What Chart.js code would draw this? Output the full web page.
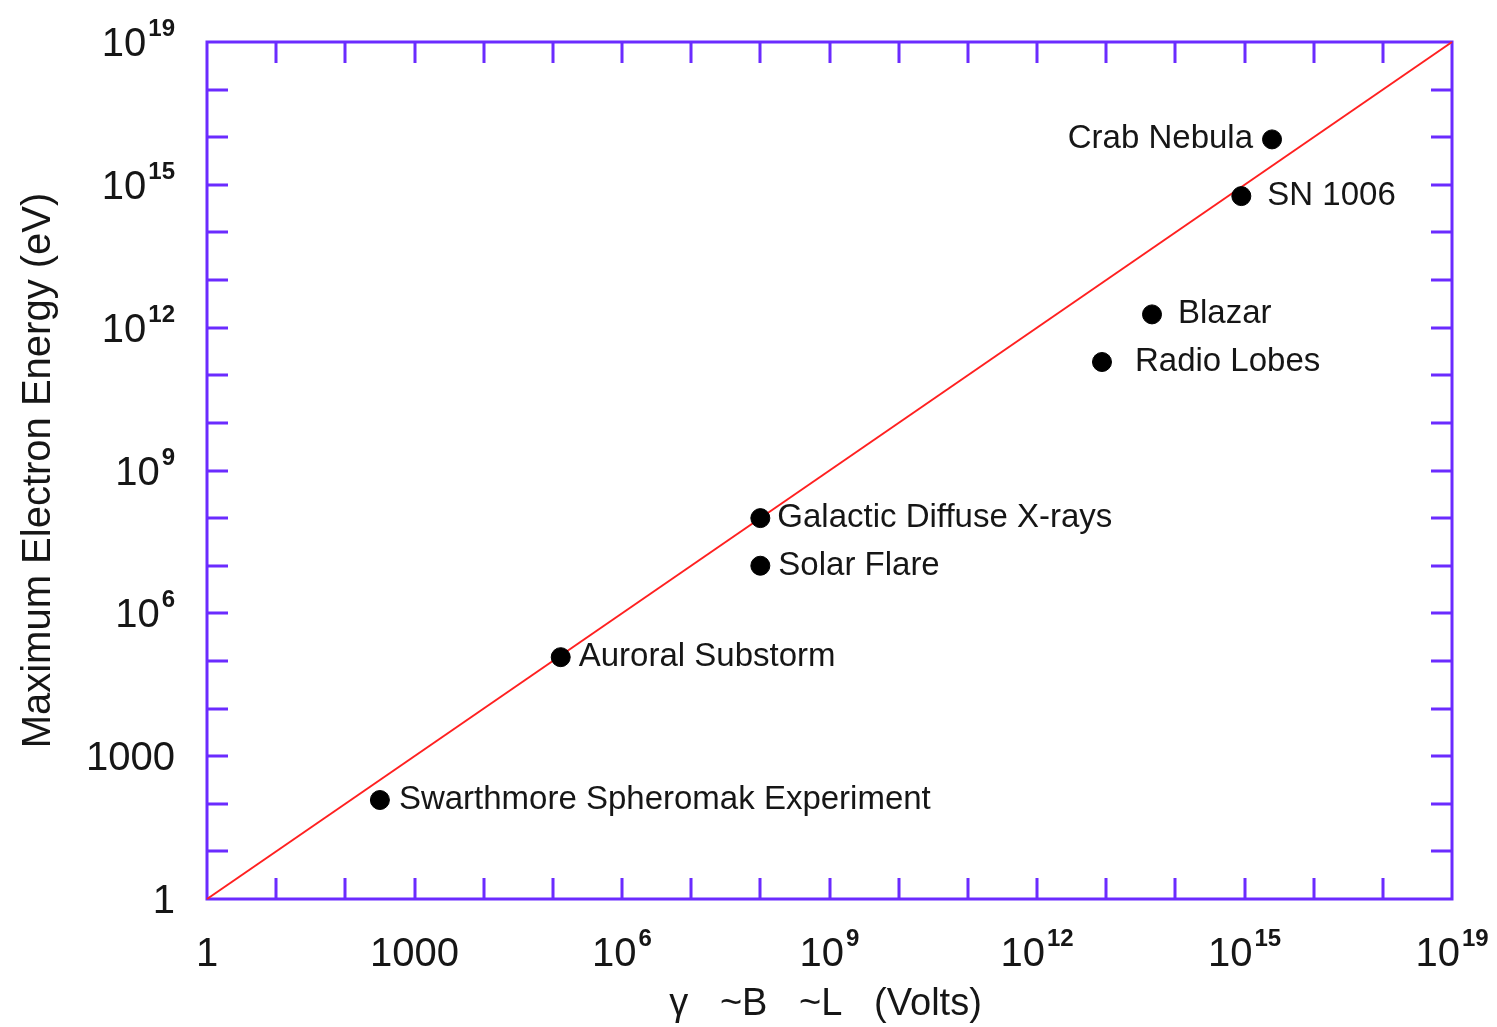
<!DOCTYPE html>
<html>
<head>
<meta charset="utf-8">
<script src="https://cdn.jsdelivr.net/npm/chart.js@4.4.1/dist/chart.umd.min.js"></script>
<style>
  html, body { margin: 0; padding: 0; background: #ffffff; }
  #wrap { width: 1497px; height: 1027px; position: relative; }
</style>
</head>
<body>
<div id="wrap"><canvas id="chart"></canvas></div>
<script>
// Astrophysical and laboratory accelerators: potential drop vs. maximum electron energy
const sourceNames = [
  'Swarthmore Spheromak Experiment',
  'Auroral Substorm',
  'Galactic Diffuse X-rays',
  'Solar Flare',
  'Radio Lobes',
  'Blazar',
  'SN 1006',
  'Crab Nebula'
];
const voltage   = [316, 1.3e5, 1e8, 1e8, 8.7e12, 4.6e13, 9e14, 2.5e15];   // volts
const maxEnergy = [120, 1.2e5, 1e8, 1e7, 1.9e11, 1.9e12, 5.8e14, 9e15];   // eV

// reference line E = V across the whole range
const lineVoltage = [1, 1e18];
const lineEnergy  = [1, 1e18];

// labelled decades and their printed text [mantissa, exponent]
const tickValues = [1, 1e3, 1e6, 1e9, 1e12, 1e15, 1e18];
const tickLabels = [['1', ''], ['1000', ''], ['10', '6'], ['10', '9'], ['10', '12'], ['10', '15'], ['10', '19']];

const xTitle = 'γ   ~B   ~L   (Volts)';
const yTitle = 'Maximum Electron Energy (eV)';

// which side of the dot each name sits on, and the gap from the dot centre
const labelSide = ['right', 'right', 'right', 'right', 'right', 'right', 'right', 'left'];
const labelGap  = [19, 18, 17, 18, 33, 26, 26, 19];

const FRAME = '#6b2bff';
const FONT = '"Liberation Sans", Arial, Helvetica, sans-serif';
const INK = '#161616';

function drawPower(ctx, base, exp, x, baseline, align) {
  ctx.font = '40px ' + FONT;
  const wb = ctx.measureText(base).width;
  ctx.font = 'bold 24px ' + FONT;
  const we = exp ? ctx.measureText(exp).width : 0;
  const gap = exp ? 2 : 0;
  const total = wb + gap + we;
  const start = align === 'center' ? x - total / 2 : x - total;
  ctx.textAlign = 'left';
  ctx.textBaseline = 'alphabetic';
  ctx.font = '40px ' + FONT;
  ctx.fillText(base, start, baseline);
  if (exp) {
    ctx.font = 'bold 24px ' + FONT;
    ctx.fillText(exp, start + wb + gap, baseline - 20);
  }
}

const framePlugin = {
  id: 'frameAndTicks',
  beforeDatasetsDraw(chart) {
    const { ctx, chartArea: a, scales: { x, y } } = chart;
    ctx.save();
    ctx.strokeStyle = FRAME;
    ctx.lineWidth = 3;
    ctx.lineCap = 'butt';
    const len = 21;
    const decades = Math.round(Math.log10(x.max / x.min));
    ctx.beginPath();
    for (let e = 1; e < decades; e++) {
      const px = Math.round(x.getPixelForValue(x.min * Math.pow(10, e)));
      ctx.moveTo(px, a.bottom); ctx.lineTo(px, a.bottom - len);
      ctx.moveTo(px, a.top);    ctx.lineTo(px, a.top + len);
    }
    const ydec = Math.round(Math.log10(y.max / y.min));
    for (let e = 1; e < ydec; e++) {
      const py = Math.round(y.getPixelForValue(y.min * Math.pow(10, e)));
      ctx.moveTo(a.left, py);  ctx.lineTo(a.left + len, py);
      ctx.moveTo(a.right, py); ctx.lineTo(a.right - len, py);
    }
    ctx.stroke();
    ctx.strokeRect(a.left, a.top, a.right - a.left, a.bottom - a.top);
    ctx.restore();
  },
  afterDatasetsDraw(chart) {
    const { ctx, chartArea: a, scales: { x, y } } = chart;
    ctx.save();
    ctx.fillStyle = INK;

    // tick labels
    tickValues.forEach((v, i) => {
      const [b, e] = tickLabels[i];
      drawPower(ctx, b, e, x.getPixelForValue(v), a.bottom + 67, 'center');
      drawPower(ctx, b, e, 175, y.getPixelForValue(v) + 14, 'right');
    });

    // axis titles
    ctx.font = '38px ' + FONT;
    ctx.textAlign = 'center';
    ctx.textBaseline = 'alphabetic';
    ctx.fillText(xTitle, (a.left + a.right) / 2 - 4, 1015);
    ctx.save();
    ctx.translate(50, (a.top + a.bottom) / 2);
    ctx.rotate(-Math.PI / 2);
    ctx.font = '40px ' + FONT;
    ctx.fillText(yTitle, 0, 0);
    ctx.restore();

    // source names beside their dots
    const meta = chart.getDatasetMeta(0);
    ctx.font = '33px ' + FONT;
    meta.data.forEach((pt, i) => {
      const right = labelSide[i] === 'right';
      ctx.textAlign = right ? 'left' : 'right';
      ctx.fillText(sourceNames[i], pt.x + (right ? labelGap[i] : -labelGap[i]), pt.y + 9);
    });
    ctx.restore();
  }
};

new Chart(document.getElementById('chart'), {
  type: 'scatter',
  data: {
    datasets: [
      {
        label: 'Sources',
        data: voltage.map((v, i) => ({ x: v, y: maxEnergy[i] })),
        backgroundColor: '#000000',
        borderColor: '#000000',
        pointRadius: 9.5,
        pointHoverRadius: 9.5,
        clip: false,
        order: 0
      },
      {
        label: 'E = V',
        data: lineVoltage.map((v, i) => ({ x: v, y: lineEnergy[i] })),
        showLine: true,
        borderColor: '#ff2020',
        borderWidth: 2,
        pointRadius: 0,
        clip: false,
        order: 1
      }
    ]
  },
  options: {
    responsive: true,
    maintainAspectRatio: false,
    animation: false,
    events: [],
    layout: { padding: { left: 207, right: 45, top: 42, bottom: 128 } },
    plugins: { legend: { display: false }, tooltip: { enabled: false } },
    scales: {
      x: { type: 'logarithmic', min: 1, max: 1e18, display: false },
      y: { type: 'logarithmic', min: 1, max: 1e18, display: false }
    }
  },
  plugins: [framePlugin]
});
</script>
</body>
</html>
